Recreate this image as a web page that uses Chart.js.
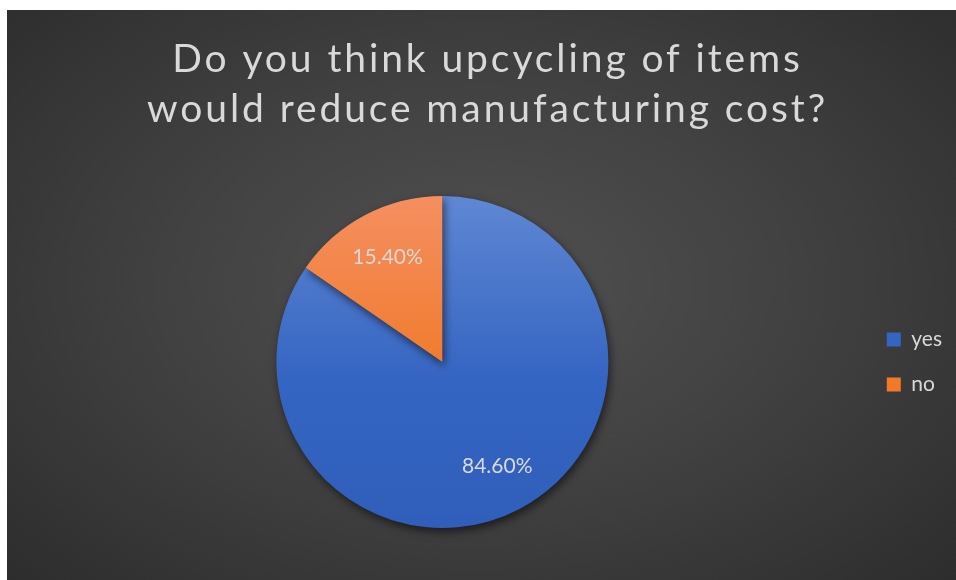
<!DOCTYPE html>
<html>
<head>
<meta charset="utf-8">
<script src="https://cdn.jsdelivr.net/npm/chart.js@4/dist/chart.umd.min.js"></script>
<style>
  html, body { margin: 0; padding: 0; background: #fff; }
  #box {
    position: absolute; left: 7px; top: 10px; width: 949px; height: 570px;
    background: radial-gradient(ellipse 75% 80% at 50% 48%, #515151 0%, #414141 45%, #2a2a2a 100%);
  }
</style>
</head>
<body>
<div id="box"><canvas id="chartPie"></canvas></div>
<script>
var titleLines = ['Do you think upcycling of items', 'would reduce manufacturing cost?'];
var categories = ['yes', 'no'];
var shares = [84.6, 15.4];

var textColor = '#d9d9d9';
var fontFamily = 'Lato, "Open Sans", sans-serif';

// top-to-bottom shading of each slice, light at the top
var sliceColors = [
    ['#5f87d3', '#3565c2', '#2f5ebb'],
    ['#f58f61', '#f07a2a', '#e86c18']
];

function sliceFill(context) {
    var chart = context.chart;
    var area = chart.chartArea;
    if (!area) return sliceColors[context.dataIndex][1];
    var g = chart.ctx.createLinearGradient(0, area.top, 0, area.bottom);
    var c = sliceColors[context.dataIndex];
    g.addColorStop(0, c[0]);
    g.addColorStop(0.55, c[1]);
    g.addColorStop(1, c[2]);
    return g;
}

// title with wide letter spacing, drawn above the pie
var spacedTitle = {
    id: 'spacedTitle',
    afterDraw: function(chart) {
        var ctx = chart.ctx;
        ctx.save();
        ctx.fillStyle = textColor;
        ctx.font = '39px ' + fontFamily;
        ctx.letterSpacing = '2.9px';
        ctx.textAlign = 'center';
        ctx.textBaseline = 'alphabetic';
        titleLines.forEach(function(line, i) {
            ctx.fillText(line, chart.width / 2 + 6, 62 + i * 50);
        });
        ctx.restore();
    }
};

// soft drop shadow under the pie and percentage labels on the slices
var sliceDecor = {
    id: 'sliceDecor',
    beforeDatasetsDraw: function(chart) {
        var ctx = chart.ctx;
        ctx.save();
        ctx.shadowColor = 'rgba(0,0,0,0.55)';
        ctx.shadowBlur = 8;
        ctx.shadowOffsetX = 2;
        ctx.shadowOffsetY = 4;
    },
    afterDatasetsDraw: function(chart) {
        var ctx = chart.ctx;
        ctx.restore();
        var meta = chart.getDatasetMeta(0);
        ctx.save();
        ctx.fillStyle = textColor;
        ctx.font = '21px ' + fontFamily;
        ctx.textAlign = 'center';
        ctx.textBaseline = 'middle';
        meta.data.forEach(function(arc, i) {
            var mid = (arc.startAngle + arc.endAngle) / 2;
            var r = arc.outerRadius * 0.71;
            var x = arc.x + Math.cos(mid) * r;
            var y = arc.y + Math.sin(mid) * r;
            ctx.fillText(shares[i].toFixed(2) + '%', x, y);
        });
        ctx.restore();
    }
};

var ctx = document.getElementById('chartPie').getContext('2d');
var pieChart = new Chart(ctx, {
    type: 'pie',
    data: {
        labels: categories,
        datasets: [{
            data: shares,
            backgroundColor: sliceFill,
            borderWidth: 0
        }]
    },
    options: {
        responsive: true,
        maintainAspectRatio: false,
        animation: false,
        layout: {
            padding: { top: 186, bottom: 52, left: 15, right: 4 }
        },
        plugins: {
            title: { display: false },
            tooltip: { enabled: false },
            legend: {
                position: 'right',
                align: 'center',
                labels: {
                    color: textColor,
                    boxWidth: 14,
                    boxHeight: 14,
                    padding: 24,
                    font: { family: fontFamily, size: 21 },
                    generateLabels: function(chart) {
                        var items = Chart.overrides.pie.plugins.legend.labels.generateLabels(chart);
                        items.forEach(function(it, i) {
                            it.fillStyle = sliceColors[i][1];
                            it.lineWidth = 0;
                            it.strokeStyle = 'transparent';
                        });
                        return items;
                    }
                }
            }
        }
    },
    plugins: [spacedTitle, sliceDecor]
});
</script>
</body>
</html>
